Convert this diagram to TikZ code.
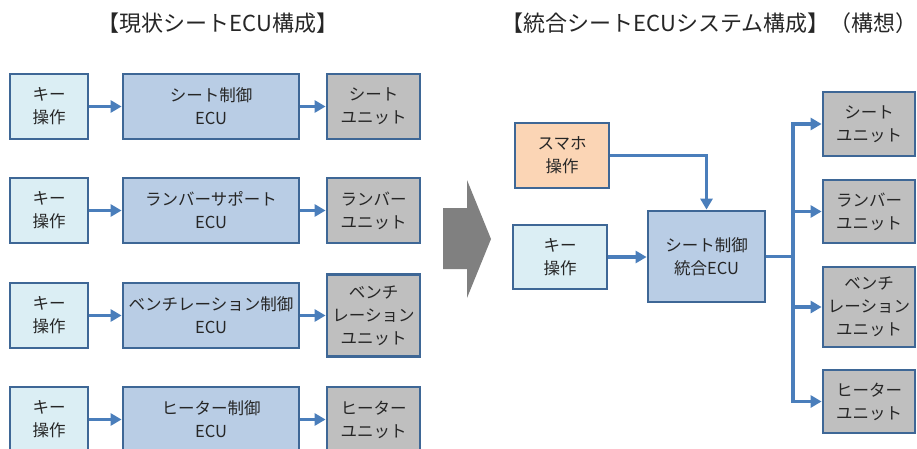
\documentclass[tikz,border=0pt]{standalone}
\usepackage{fontspec}
\setmainfont{Noto Sans CJK JP}
\usetikzlibrary{arrows.meta}
\definecolor{bordc}{HTML}{3E6796}
\definecolor{keyfill}{HTML}{DBEEF4}
\definecolor{ecufill}{HTML}{B9CDE5}
\definecolor{unitfill}{HTML}{BFBFBF}
\definecolor{phonefill}{HTML}{FBD5B5}
\definecolor{arrc}{HTML}{4A7EBB}
\definecolor{chev}{HTML}{808080}
\definecolor{txt}{HTML}{262626}
\tikzset{
  basebox/.style={draw=bordc, line width=2.8pt, inner sep=0pt, align=center,
    text=txt, font=\fontsize{16.5}{23}\selectfont},
  keybox/.style={basebox, fill=keyfill},
  ecubox/.style={basebox, fill=ecufill},
  unitbox/.style={basebox, fill=unitfill},
  phonebox/.style={basebox, fill=phonefill},
  conn/.style={draw=arrc, line width=3.4pt, -{Triangle[length=11pt,width=12pt]}},
  plainconn/.style={draw=arrc, line width=3.4pt},
  ttl/.style={text=txt, font=\fontsize{22}{26}\selectfont, inner sep=0pt}
}
\begin{document}
\begin{tikzpicture}[x=1pt,y=-1pt]
\useasboundingbox (0,0) rectangle (917,449);
\clip (0,0) rectangle (917,449);
% titles
\node[ttl] (t1) at (218,23) {【現状シートECU構成】};
\node[ttl, anchor=east] (t2) at (918,23) {【統合シートECUシステム構成】（構想）};
% left rows
\foreach \r/\cy/\ecu/\unit/\uh in {1/106.5/{シート制御\\ECU}/{シート\\ユニット}/65,
                                 2/210.5/{ランバーサポート\\ECU}/{ランバー\\ユニット}/65,
                                 3/315.5/{ベンチレーション制御\\ECU}/{ベンチ\\レーション\\ユニット}/82,
                                 4/419.5/{ヒーター制御\\ECU}/{ヒーター\\ユニット}/65}{
  \node[keybox, minimum width=78pt, minimum height=65pt] (k\r) at (49,\cy) {キー\\操作};
  \node[ecubox, minimum width=176pt, minimum height=65pt] (e\r) at (211,\cy) {\ecu};
  \node[unitbox, minimum width=93pt, minimum height=\uh pt] (u\r) at (373.5,\cy) {\unit};
  \draw[conn] (k\r.east) -- (e\r.west);
  \draw[conn] (e\r.east) -- (e\r.east -| u\r.west);
}
% chevron
\fill[chev] (443,208) -- (467,208) -- (467,180) -- (491,239) -- (467,298) -- (467,269) -- (443,269) -- cycle;
% right side
\node[phonebox, minimum width=94pt, minimum height=65pt] (ph) at (562,155.5) {スマホ\\操作};
\node[keybox, minimum width=94pt, minimum height=64pt] (k5) at (560,257) {キー\\操作};
\node[ecubox, minimum width=117pt, minimum height=91pt] (e5) at (706.5,256.5) {シート制御\\統合ECU};
\node[unitbox, minimum width=92pt, minimum height=64pt] (r1) at (869,124) {シート\\ユニット};
\node[unitbox, minimum width=92pt, minimum height=63pt] (r2) at (869,211.5) {ランバー\\ユニット};
\node[unitbox, minimum width=92pt, minimum height=80pt] (r3) at (869,307) {ベンチ\\レーション\\ユニット};
\node[unitbox, minimum width=92pt, minimum height=63pt] (r4) at (869,401.5) {ヒーター\\ユニット};
\coordinate (bus) at (793,256.5);
\draw[conn] (ph.east) -| (e5.north);
\draw[conn] (k5.east) -- (k5.east -| e5.west);
\draw[plainconn] (e5.east |- bus) -- (bus);
\draw[plainconn, line cap=rect] (bus |- r1.west) -- (bus |- r4.west);
\foreach \u in {r1,r2,r3,r4}{
  \draw[conn] (bus |- \u.west) -- (\u.west);
}
\end{tikzpicture}
\end{document}
